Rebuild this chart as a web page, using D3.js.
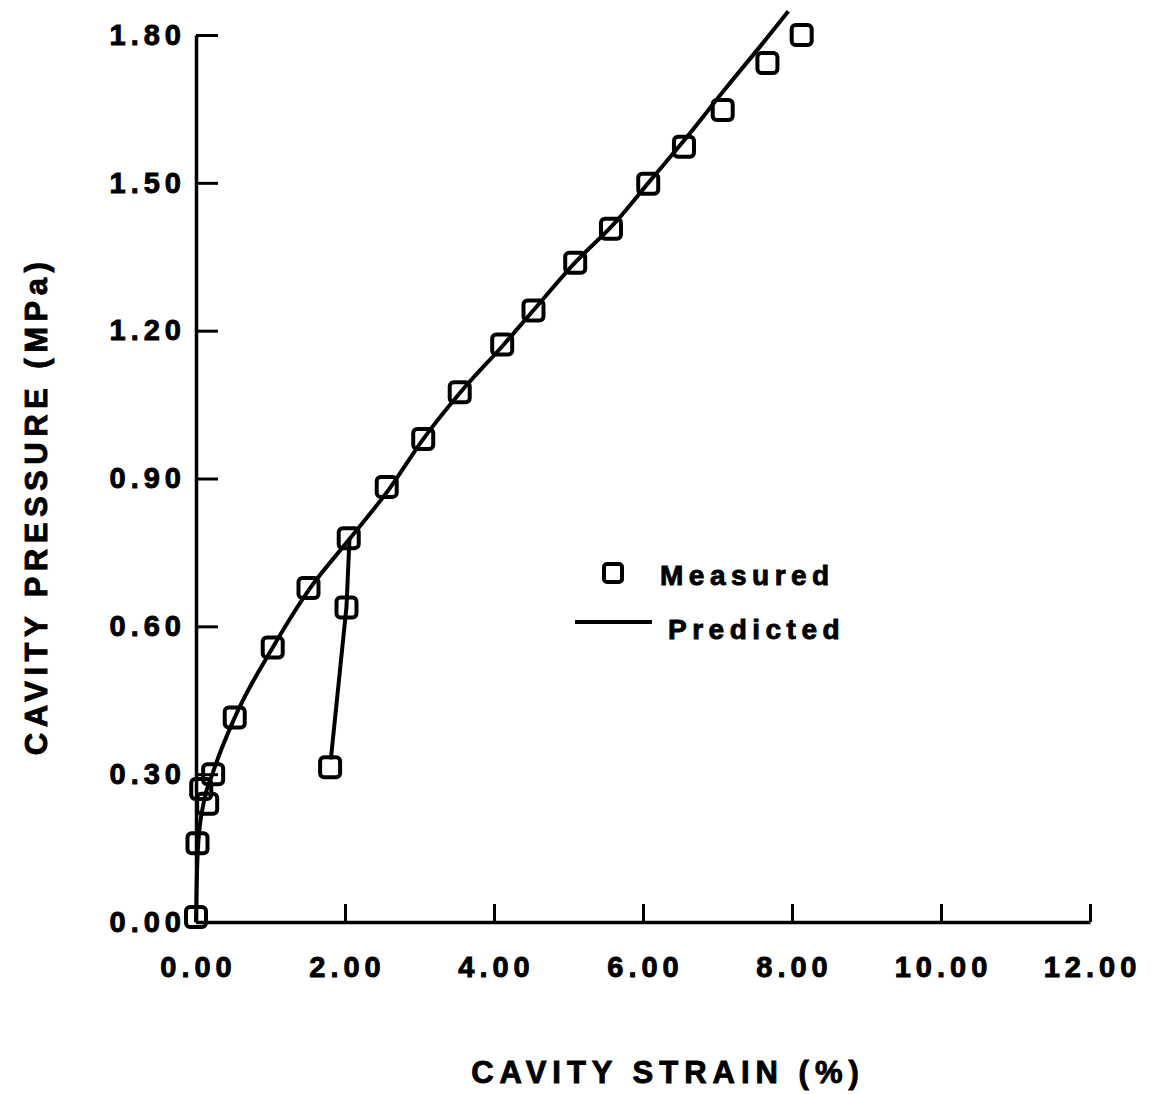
<!DOCTYPE html>
<html>
<head>
<meta charset="utf-8">
<script src="https://cdn.jsdelivr.net/npm/d3@7"></script>
<style>
  body { margin: 0; background: #fff; }
  text { font-family: "Liberation Sans", Arial, sans-serif; font-weight: bold; fill: #000; stroke: #000; stroke-width: 0.9px; }
</style>
</head>
<body>
<div class="chart-wrapper"></div>
<script>
// measured points: strain (%) / pressure (MPa)
const measuredStrain = [0.00, 0.02, 0.07, 0.15, 0.23, 0.52, 1.03, 1.51, 2.05, 2.02, 1.80,
  2.56, 3.05, 3.54, 4.11, 4.53, 5.09, 5.57, 6.07, 6.55, 7.07, 7.67, 8.13]
const measuredPressure = [0.01, 0.16, 0.27, 0.24, 0.30, 0.415, 0.557, 0.678, 0.779, 0.638, 0.314,
  0.883, 0.98, 1.075, 1.172, 1.241, 1.338, 1.407, 1.498, 1.573, 1.648, 1.743, 1.80]

// predicted loading curve
const predStrain = [0, 0.01, 0.03, 0.1, 0.22, 0.52, 1.03, 1.52, 2.06, 2.6, 3.05, 3.55, 4.12, 4.55,
  5.1, 5.6, 6.1, 6.6, 7.1, 7.6, 7.95]
const predPressure = [0, 0.08, 0.16, 0.24, 0.30, 0.415, 0.557, 0.675, 0.777, 0.88, 0.98, 1.075,
  1.17, 1.245, 1.34, 1.415, 1.505, 1.595, 1.69, 1.782, 1.848]

// predicted unloading branch
const unloadStrain = [2.06, 2.02, 1.81]
const unloadPressure = [0.777, 0.64, 0.33]

const xTicks = [0, 2, 4, 6, 8, 10, 12]
const yTicks = [0, 0.3, 0.6, 0.9, 1.2, 1.5, 1.8]

const width = 1151, height = 1094

let svg = d3.select('.chart-wrapper').append('svg')
  .attr('width', width)
  .attr('height', height)

let x = d3.scaleLinear().domain([0, 12]).range([196, 1090])
let y = d3.scaleLinear().domain([0, 1.8]).range([922, 35])

const tickFont = sel => sel
  .style('font-size', '29px').style('letter-spacing', '5px')
  .style('font-family', '"Liberation Sans", Arial, sans-serif').style('font-weight', 'bold')
  .attr('stroke', '#000').attr('stroke-width', 0.9)

// axes
let xAxis = d3.axisBottom(x).tickValues(xTicks).tickSizeInner(-18).tickSizeOuter(0)
  .tickFormat(d3.format('.2f'))
let gx = svg.append('g').attr('transform', `translate(0,${y(0)})`).call(xAxis)
gx.select('.domain').attr('stroke-width', 3.5)
gx.selectAll('.tick line').attr('stroke-width', 3)
gx.selectAll('.tick text')
  .attr('y', 34).attr('dy', '0.71em').attr('dx', 2)
  .call(tickFont)

let yAxis = d3.axisLeft(y).tickValues(yTicks).tickSizeInner(-22).tickSizeOuter(0)
  .tickFormat(d3.format('.2f'))
let gy = svg.append('g').attr('transform', `translate(${x(0)},0)`).call(yAxis)
gy.select('.domain').attr('stroke-width', 3.5)
gy.selectAll('.tick line').attr('stroke-width', 3)
gy.selectAll('.tick text')
  .attr('x', -10)
  .call(tickFont)

// axis titles
svg.append('text')
  .attr('x', 668).attr('y', 1083)
  .attr('text-anchor', 'middle')
  .style('font-size', '31px').style('letter-spacing', '6px')
  .text('CAVITY STRAIN (%)')

svg.append('text')
  .attr('transform', 'translate(47,506) rotate(-90)')
  .attr('text-anchor', 'middle')
  .style('font-size', '31px').style('letter-spacing', '5.5px')
  .text('CAVITY PRESSURE (MPa)')

// predicted lines
let line = d3.line().x(d => x(d[0])).y(d => y(d[1]))

svg.append('path')
  .datum(predStrain.map((s, i) => [s, predPressure[i]]))
  .attr('d', line.curve(d3.curveMonotoneX))
  .attr('fill', 'none').attr('stroke', '#000').attr('stroke-width', 4)

svg.append('path')
  .datum(unloadStrain.map((s, i) => [s, unloadPressure[i]]))
  .attr('d', line.curve(d3.curveLinear))
  .attr('fill', 'none').attr('stroke', '#000').attr('stroke-width', 4)

// measured squares
const sq = 20
svg.append('g').selectAll('rect')
  .data(measuredStrain.map((s, i) => [s, measuredPressure[i]]))
  .join('rect')
  .attr('x', d => x(d[0]) - sq / 2)
  .attr('y', d => y(d[1]) - sq / 2)
  .attr('width', sq).attr('height', sq)
  .attr('rx', 4)
  .attr('fill', 'none').attr('stroke', '#000').attr('stroke-width', 4)

// legend
let legend = svg.append('g')
legend.append('rect')
  .attr('x', 604).attr('y', 564).attr('width', 18).attr('height', 18).attr('rx', 3)
  .attr('fill', 'none').attr('stroke', '#000').attr('stroke-width', 4)
legend.append('text')
  .attr('x', 660).attr('y', 585)
  .style('font-size', '28px').style('letter-spacing', '5.5px')
  .text('Measured')
legend.append('line')
  .attr('x1', 575).attr('x2', 652).attr('y1', 622).attr('y2', 622)
  .attr('stroke', '#000').attr('stroke-width', 4)
legend.append('text')
  .attr('x', 668).attr('y', 639)
  .style('font-size', '28px').style('letter-spacing', '5.5px')
  .text('Predicted')
</script>
</body>
</html>
